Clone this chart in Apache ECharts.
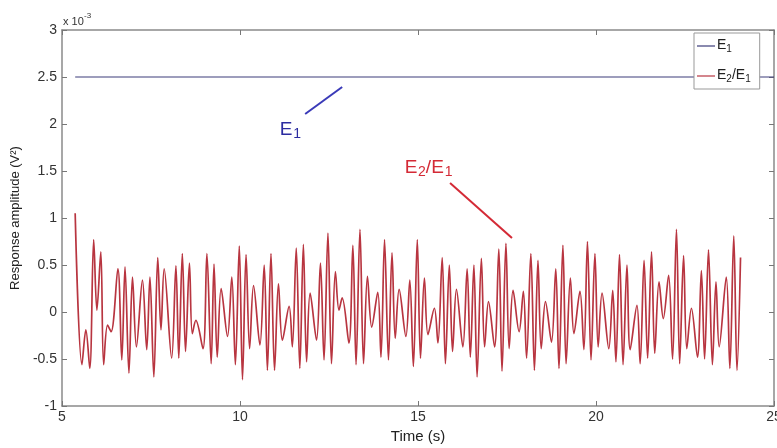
<!DOCTYPE html>
<html><head><meta charset="utf-8">
<script src="https://cdn.jsdelivr.net/npm/echarts@6/dist/echarts.min.js"></script>
<style>html,body{margin:0;padding:0;background:#fff}#c{width:777px;height:448px}</style>
</head><body><div id="c"></div>
<script>
// ---- data (values in units of 1e-3) ----
const xTicks = [5, 10, 15, 20, 25];
const yTicks = [-1, -0.5, 0, 0.5, 1, 1.5, 2, 2.5, 3];
const seriesNames = ['E1', 'E2/E1'];
const tE1 = [5.37, 25];
const vE1 = [2.5, 2.5];
const tE21 = [5.37,5.56,5.67,5.78,5.89,5.98,6.09,6.17,6.28,6.38,6.57,6.68,6.77,6.88,6.98,7.09,7.26,7.38,7.47,7.58,
7.69,7.78,7.87,8.08,8.20,8.28,8.38,8.47,8.58,8.66,8.76,8.96,9.07,9.19,9.27,9.36,9.47,9.65,9.77,9.87,
9.98,10.07,10.17,10.27,10.38,10.56,10.68,10.77,10.87,10.97,11.08,11.19,11.38,11.47,11.58,11.68,11.78,11.87,11.97,12.15,
12.26,12.36,12.47,12.57,12.68,12.78,12.87,13.06,13.17,13.26,13.37,13.47,13.58,13.70,13.87,13.96,14.06,14.17,14.27,14.36,
14.47,14.66,14.77,14.87,14.98,15.07,15.18,15.28,15.46,15.56,15.68,15.77,15.88,15.97,16.08,16.26,16.38,16.47,16.57,16.66,
16.78,16.87,16.98,17.15,17.27,17.36,17.47,17.56,17.67,17.84,17.96,18.05,18.17,18.27,18.37,18.46,18.58,18.75,18.87,18.96,
19.07,19.16,19.28,19.38,19.55,19.66,19.76,19.86,19.97,20.06,20.17,20.36,20.47,20.56,20.66,20.76,20.87,20.96,21.15,21.24,
21.35,21.45,21.56,21.65,21.77,21.89,22.04,22.15,22.26,22.35,22.46,22.55,22.68,22.85,22.96,23.05,23.16,23.27,23.37,23.46,
23.66,23.76,23.87,23.96,24.06];
const vE21 = [1.05,-0.56,-0.19,-0.60,0.77,0.02,0.64,-0.56,-0.14,-0.21,0.46,-0.51,0.48,-0.65,0.37,-0.37,0.34,-0.40,0.37,-0.69,
0.58,-0.19,0.46,-0.49,0.49,-0.49,0.62,-0.42,0.52,-0.23,-0.09,-0.39,0.62,-0.55,0.51,-0.48,0.25,-0.26,0.37,-0.56,
0.70,-0.72,0.61,-0.39,0.28,-0.35,0.50,-0.62,0.62,-0.62,0.30,-0.30,0.06,-0.37,0.68,-0.60,0.72,-0.53,0.20,-0.30,
0.52,-0.51,0.84,-0.55,0.43,0.02,0.15,-0.33,0.71,-0.56,0.88,-0.55,0.38,-0.16,0.21,-0.48,0.77,-0.51,0.63,-0.28,
0.24,-0.26,0.34,-0.58,0.77,-0.49,0.36,-0.24,0.04,-0.33,0.58,-0.55,0.50,-0.42,0.24,-0.37,0.46,-0.48,0.50,-0.69,
0.57,-0.37,0.11,-0.37,0.67,-0.63,0.73,-0.39,0.23,-0.21,0.22,-0.49,0.62,-0.62,0.55,-0.39,0.11,-0.32,0.46,-0.60,
0.71,-0.55,0.36,-0.23,0.22,-0.40,0.75,-0.51,0.62,-0.37,0.20,-0.39,0.23,-0.53,0.61,-0.56,0.50,-0.40,0.07,-0.55,
0.55,-0.49,0.64,-0.44,0.32,-0.07,0.39,-0.50,0.88,-0.55,0.60,-0.39,0.04,-0.48,0.44,-0.50,0.66,-0.56,0.32,-0.37,
0.37,-0.60,0.81,-0.62,0.58];

const FONT = '"Liberation Sans", Arial, Helvetica, sans-serif';
const frame = {color: '#8a8a8a', width: 1.5};
const tickStyle = {color: '#777', width: 1};

function xAx(pos, labels) {
  return {
    type: 'value', position: pos, min: xTicks[0], max: xTicks[xTicks.length - 1],
    interval: xTicks[1] - xTicks[0],
    axisLine: {show: true, onZero: false, lineStyle: frame},
    axisTick: {show: true, inside: true, length: 5, lineStyle: tickStyle},
    axisLabel: {show: labels, color: '#333', fontSize: 14, fontFamily: FONT, margin: 4,
      hideOverlap: false},
    splitLine: {show: false}
  };
}
function yAx(pos, labels) {
  return {
    type: 'value', position: pos, min: yTicks[0], max: yTicks[yTicks.length - 1],
    interval: yTicks[1] - yTicks[0],
    axisLine: {show: true, onZero: false, lineStyle: frame},
    axisTick: {show: true, inside: true, length: 5, lineStyle: tickStyle},
    axisLabel: {show: labels, color: '#333', fontSize: 14, fontFamily: FONT, margin: 5,
      formatter: v => String(v)},
    splitLine: {show: false}
  };
}

const xa = xAx('bottom', true);
xa.name = 'Time (s)'; xa.nameLocation = 'middle'; xa.nameGap = 19;
xa.nameTextStyle = {color: '#222', fontSize: 15, fontFamily: FONT};
const ya = yAx('left', true);
ya.name = 'Response amplitude (V\u00B2)'; ya.nameLocation = 'middle'; ya.nameGap = 27;
ya.nameTextStyle = {color: '#222', fontSize: 13, fontFamily: FONT};

const option = {
  animation: false,
  backgroundColor: '#fff',
  grid: {left: 62, right: 3, top: 30, bottom: 42, containLabel: false, outerBoundsMode: 'none'},
  xAxis: [xa, xAx('top', false)],
  yAxis: [ya, yAx('right', false)],
  legend: {
    orient: 'vertical', left: 694, top: 33,
    data: seriesNames,
    icon: 'rect', itemWidth: 18, itemHeight: 1.2, itemGap: 14,
    padding: [5, 9, 5, 3],
    backgroundColor: '#fff', borderColor: '#999', borderWidth: 1,
    formatter: n => n === 'E1' ? '{a|E}{b|1}' : '{a|E}{b|2}{a|/E}{b|1}',
    textStyle: {
      color: '#222', fontFamily: FONT, padding: [0, 0, 0, -3],
      rich: {
        a: {fontSize: 14, lineHeight: 16, verticalAlign: 'top', fontFamily: FONT, color: '#222'},
        b: {fontSize: 10, lineHeight: 10, verticalAlign: 'bottom', fontFamily: FONT, color: '#222'}
      }
    }
  },
  series: [
    {name: seriesNames[0], type: 'line', showSymbol: false, z: 3,
      data: tE1.map((t, i) => [t, vE1[i]]),
      lineStyle: {color: '#3c3c7a', width: 1.2}, itemStyle: {color: '#3c3c7a'}},
    {name: seriesNames[1], type: 'line', showSymbol: false, smooth: 0.35, z: 2,
      data: tE21.map((t, i) => [t, vE21[i]]),
      lineStyle: {color: '#b83540', width: 1.7}, itemStyle: {color: '#b83540'}}
  ]
};

const chart = echarts.init(document.getElementById('c'));
chart.setOption(option);

function px(t, v) { return chart.convertToPixel({xAxisIndex: 0, yAxisIndex: 0}, [t, v]); }
const blue = '#2c2ca0', red = '#d42a36';
const p1 = px(11.83, 2.106), p2 = px(12.87, 2.394);
const q1 = px(15.90, 1.372), q2 = px(17.64, 0.787);
const L1 = px(11.12, 1.936), L2 = px(14.63, 1.532);
const corner = px(5, 3);

function txt(s, x, y, size, color) {
  return {type: 'text', style: {text: s, x: x, y: y, fontSize: size, fontFamily: FONT,
    fill: color, align: 'left', verticalAlign: 'middle'}};
}

chart.setOption({
  graphic: [
    {type: 'line', shape: {x1: p1[0], y1: p1[1], x2: p2[0], y2: p2[1]},
      style: {stroke: '#3a3ab8', lineWidth: 2}, z: 10},
    {type: 'line', shape: {x1: q1[0], y1: q1[1], x2: q2[0], y2: q2[1]},
      style: {stroke: red, lineWidth: 2}, z: 10},
    {type: 'group', x: L1[0], y: L1[1], z: 10, children: [
      txt('E', 0, 0, 19, blue), txt('1', 13.5, 4, 14, blue)
    ]},
    {type: 'group', x: L2[0], y: L2[1], z: 10, children: [
      txt('E', 0, 0, 19, red), txt('2', 13.2, 4, 14, red), txt('/', 21, 0, 19, red),
      txt('E', 26.5, 0, 19, red), txt('1', 40, 4, 14, red)
    ]},
    {type: 'group', x: corner[0] + 1, y: corner[1] - 8, z: 10, children: [
      txt('x 10', 0, 0, 11, '#333'), txt('-3', 21, -6, 8, '#333')
    ]}
  ]
});
</script>
</body></html>
